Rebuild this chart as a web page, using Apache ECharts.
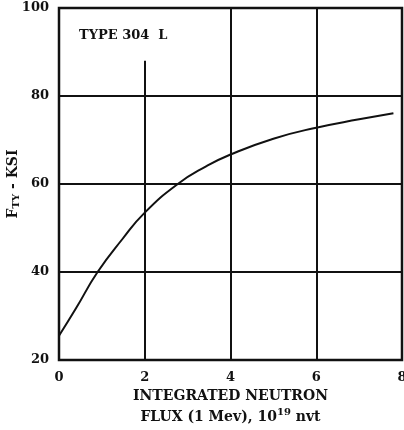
<!DOCTYPE html>
<html>
<head>
<meta charset="utf-8">
<script src="https://cdn.jsdelivr.net/npm/echarts@6/dist/echarts.min.js"></script>
<style>
  html, body { margin: 0; padding: 0; background: #fff; }
  #chart { width: 404px; height: 430px; }
</style>
</head>
<body>
<div id="chart"></div>
<script>
// flux (10^19 nvt) vs yield strength (ksi)
const flux = [0, 0.4, 0.9, 1.48, 2, 2.77, 3.43, 4, 5, 6, 7, 7.8]
const ftyKsi = [25.5, 31.8, 40, 47.5, 53.5, 60, 64, 66.7, 70.3, 72.8, 74.7, 76.1]
const xTicks = [0, 2, 4, 6, 8]
const yTicks = [20, 40, 60, 80, 100]
// vertical grid lines: [x, top value]
const vGrid = [[2, 88], [4, 100], [6, 100]]

const font = 'DejaVu Serif'
const chart = echarts.init(document.getElementById('chart'))

chart.setOption({
  animation: false,
  title: {
    text: 'TYPE 304  L',
    left: 74, top: 24,
    textStyle: { fontFamily: font, fontWeight: 'bold', fontSize: 13, color: '#111' }
  },
  grid: {
    left: 59, right: 2, top: 8, bottom: 70,
    outerBoundsMode: 'none',
    show: true, borderColor: '#111', borderWidth: 2.5
  },
  xAxis: {
    type: 'value',
    min: xTicks[0], max: xTicks[xTicks.length - 1], interval: 2,
    axisLine: { show: false },
    axisTick: { show: false },
    splitLine: { show: false },
    axisLabel: { margin: 11, fontFamily: font, fontWeight: 'bold', fontSize: 13, color: '#111' },
    name: 'INTEGRATED NEUTRON\nFLUX (1 Mev), 10{sup|19} nvt',
    nameLocation: 'middle',
    nameGap: 26,
    nameMoveOverlap: false,
    nameTextStyle: {
      fontFamily: font, fontWeight: 'bold', fontSize: 14, color: '#111', lineHeight: 21,
      verticalAlign: 'top',
      rich: {
        sup: { fontFamily: font, fontWeight: 'bold', fontSize: 10, color: '#111', verticalAlign: 'top', padding: [0, 0, 8, 0] }
      }
    }
  },
  yAxis: {
    type: 'value',
    min: yTicks[0], max: yTicks[yTicks.length - 1], interval: 20,
    axisLine: { show: false },
    axisTick: { show: false },
    splitLine: { show: true, lineStyle: { color: '#111', width: 2 } },
    axisLabel: { margin: 10, fontFamily: font, fontWeight: 'bold', fontSize: 13, color: '#111' },
    name: '{f|F}{s|TY}{f| - KSI}',
    nameLocation: 'middle',
    nameRotate: 90,
    nameGap: 38,
    nameMoveOverlap: false,
    nameTextStyle: {
      rich: {
        f: { fontFamily: font, fontWeight: 'bold', fontSize: 14, color: '#111' },
        s: { fontFamily: font, fontWeight: 'bold', fontSize: 10, color: '#111', padding: [6, 0, 0, 0] }
      }
    }
  },
  series: [
    {
      type: 'line',
      data: flux.map((x, i) => [x, ftyKsi[i]]),
      smooth: 0.5,
      showSymbol: false,
      lineStyle: { color: '#111', width: 2 },
      markLine: {
        silent: true,
        symbol: 'none',
        label: { show: false },
        lineStyle: { color: '#111', width: 2, type: 'solid' },
        data: vGrid.map(g => [{ coord: [g[0], yTicks[0]] }, { coord: [g[0], g[1]] }])
      }
    }
  ]
})
</script>
</body>
</html>
